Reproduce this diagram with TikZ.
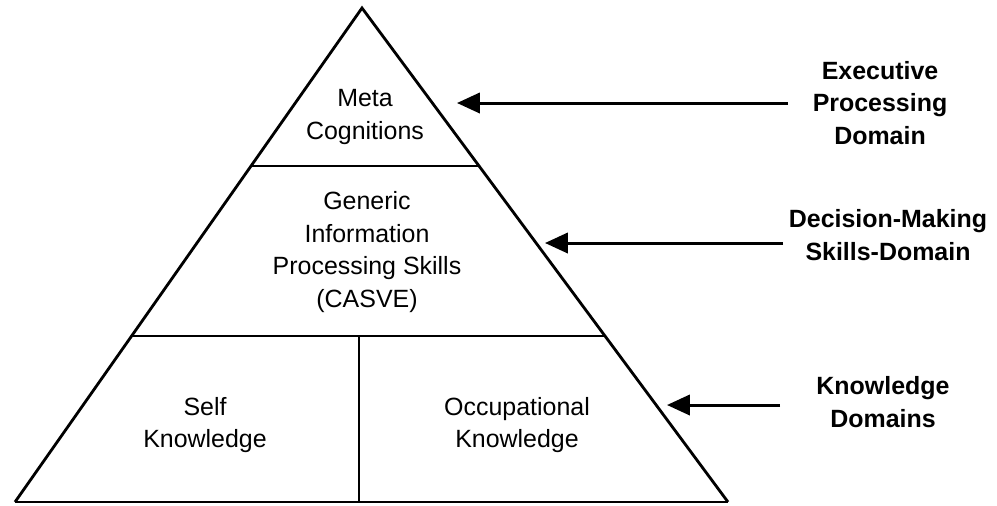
\documentclass[tikz,border=0pt]{standalone}
\usepackage{fontspec}
\setmainfont{Liberation Sans}
\usetikzlibrary{arrows.meta}

\tikzset{
  layer/.style={font=\fontsize{14.2}{18.6}\selectfont, align=center},
  domainlabel/.style={font=\fontsize{14.2}{18.6}\selectfont\bfseries, align=center},
  pointer/.style={line width=1.7pt, -{Triangle[length=13pt,width=11.5pt]}}
}

\begin{document}
\begin{tikzpicture}[x=0.02cm,y=-0.02cm]
                \useasboundingbox (0,0) rectangle (997,505);
                % pyramid
                \coordinate (apex) at (362,8);
                \coordinate (bl) at (15,502);
                \coordinate (br) at (728,502);
                \draw[line width=1.6pt, line join=miter] (bl) -- (apex) -- (br);
                \draw[line width=1.2pt] (bl) -- (br);
                \draw[line width=1.2pt] (251,166) -- (479,166);
                \draw[line width=1.2pt] (132,336) -- (604,336);
                \draw[line width=1.2pt] (359,336) -- (359,502);
                % layers
                \node[layer] (meta) at (365,117) {Meta\\Cognitions};
                \node[layer] (generic) at (367,252) {Generic\\Information\\Processing Skills\\(CASVE)};
                \node[layer] (self) at (205,425) {Self\\Knowledge};
                \node[layer] (occ) at (517,425) {Occupational\\Knowledge};
                % domains
                \node[domainlabel] (exec) at (880,103) {Executive\\Processing\\Domain};
                \node[domainlabel] (dec) at (888,235) {Decision-Making\\Skills-Domain};
                \node[domainlabel] (know) at (883,402) {Knowledge\\Domains};
                \coordinate (e1) at (788,103);
                \coordinate (e2) at (457,103);
                \coordinate (d1) at (783,243);
                \coordinate (d2) at (545,243);
                \coordinate (k1) at (780,405);
                \coordinate (k2) at (667,405);
                \draw[pointer] (e1) -- (e2);
                \draw[pointer] (d1) -- (d2);
                \draw[pointer] (k1) -- (k2);
        \end{tikzpicture}
\end{document}
